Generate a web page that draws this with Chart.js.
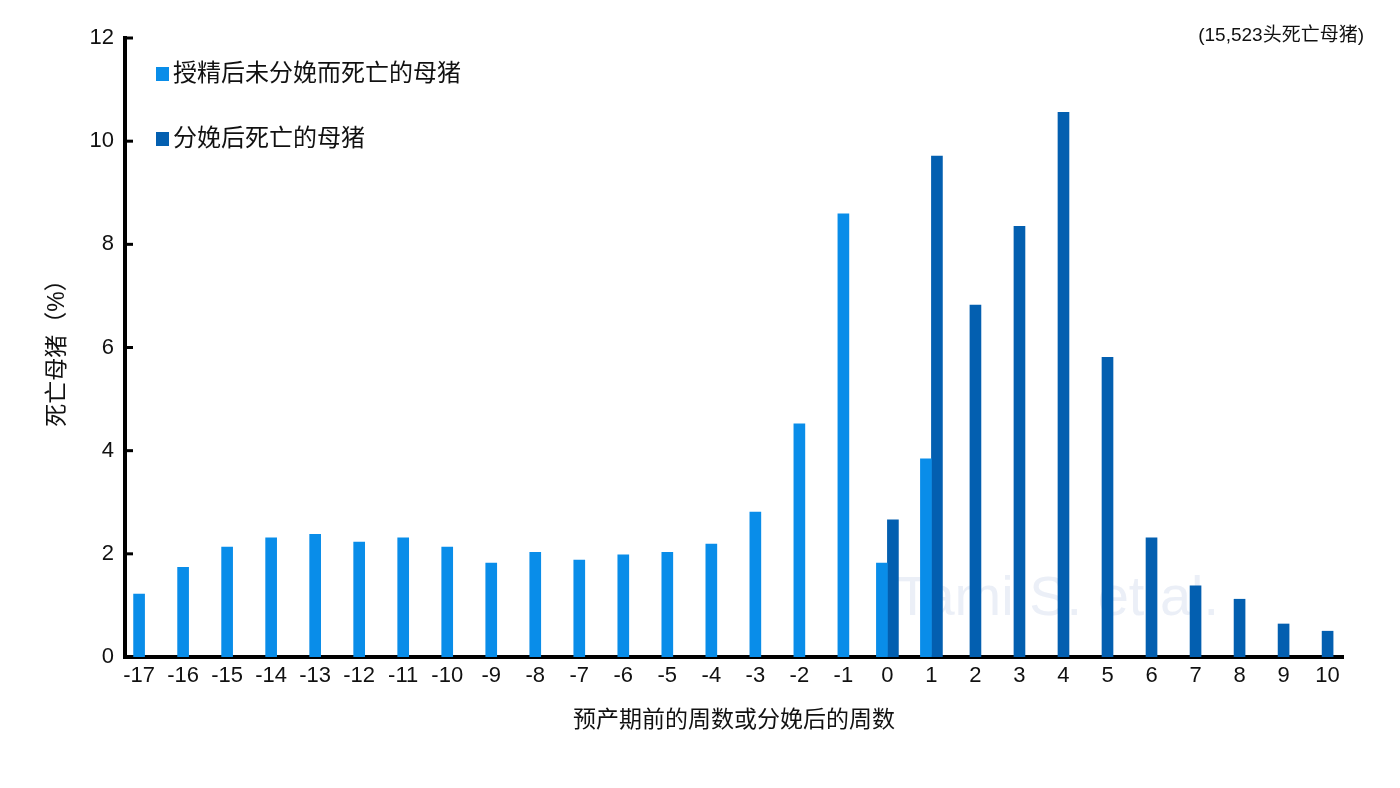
<!DOCTYPE html>
<html>
<head>
<meta charset="utf-8">
<script src="https://cdn.jsdelivr.net/npm/chart.js@4"></script>
<style>
  html, body { margin: 0; padding: 0; background: #fff; }
  #wrap { position: relative; width: 1400px; height: 788px; }
  #note { position: absolute; right: 36px; top: 19px; font: 19px Arial, "Liberation Sans", "Noto Sans CJK SC", sans-serif; color: #111; }
</style>
</head>
<body>
<div id="wrap">
  <canvas id="myChart" width="1400" height="788"></canvas>
  <div id="note">(15,523头死亡母猪)</div>
</div>
<script>
var FONT = 'Arial, "Liberation Sans", "Noto Sans CJK SC", sans-serif';

// weeks before expected farrowing (negative) or after farrowing
var weeks = ['-17', '-16', '-15', '-14', '-13', '-12', '-11', '-10', '-9', '-8', '-7', '-6', '-5', '-4', '-3', '-2', '-1', '0', '1', '2', '3', '4', '5', '6', '7', '8', '9', '10'];

// sows dead after service without farrowing (%)
var notFarrowed = [1.22, 1.74, 2.13, 2.31, 2.38, 2.23, 2.31, 2.13, 1.82, 2.03, 1.88, 1.98, 2.03, 2.19, 2.81, 4.52, 8.59, 1.82, 3.84, null, null, null, null, null, null, null, null, null];

// sows dead after farrowing (%)
var afterFarrowing = [null, null, null, null, null, null, null, null, null, null, null, null, null, null, null, null, null, 2.66, 9.71, 6.82, 8.35, 10.56, 5.81, 2.31, 1.38, 1.12, 0.64, 0.50];

var yTicks = [0, 2, 4, 6, 8, 10, 12];

// legend, inward y ticks and the faint source text
var extras = {
  id: 'extras',
  beforeDatasetsDraw: function(chart) {
    var c = chart.ctx, x = chart.scales.x, a = chart.chartArea;
    c.save();
    c.font = '56px ' + FONT;
    c.fillStyle = 'rgba(205,216,235,0.4)';
    c.textBaseline = 'middle';
    c.fillText('Tami S. et al.', x.getPixelForValue(0) + 8, a.bottom - 57);
    c.restore();
  },
  afterDraw: function(chart) {
    var c = chart.ctx, y = chart.scales.y, a = chart.chartArea;
    c.save();
    c.strokeStyle = '#000';
    c.lineWidth = 3;
    yTicks.forEach(function(v) {
      var py = y.getPixelForValue(v);
      c.beginPath();
      c.moveTo(a.left, py);
      c.lineTo(a.left + 8, py);
      c.stroke();
    });

    // legend
    c.font = '24px ' + FONT;
    c.textBaseline = 'middle';
    chart.data.datasets.forEach(function(ds, i) {
      var cy = a.top + 36 + i * 65;
      c.fillStyle = ds.backgroundColor;
      c.fillRect(a.left + 31, cy - 7, 13, 14);
      c.fillStyle = '#111';
      c.fillText(ds.label, a.left + 48, cy);
    });
    c.restore();
  }
};

var ctx = document.getElementById('myChart').getContext('2d');
var chart = new Chart(ctx, {
  type: 'bar',
  data: {
    labels: weeks,
    datasets: [{
      label: '授精后未分娩而死亡的母猪',
      backgroundColor: '#098de9',
      data: notFarrowed
    }, {
      label: '分娩后死亡的母猪',
      backgroundColor: '#035fb0',
      data: afterFarrowing
    }]
  },
  options: {
    responsive: false,
    animation: false,
    skipNull: true,
    barThickness: 11,
    layout: { padding: { left: 40, right: 57, top: 38, bottom: 50 } },
    plugins: {
      tooltip: { enabled: false },
      legend: { display: false }
    },
    scales: {
      x: {
        type: 'linear',
        offset: false,
        min: -17.32,
        max: 10.35,
        grid: { display: false, drawTicks: false },
        border: { color: '#000', width: 4 },
        ticks: {
          stepSize: 1,
          includeBounds: false,
          color: '#111',
          font: { family: FONT, size: 22 },
          padding: 6,
          maxRotation: 0,
          autoSkip: false,
          callback: function(v) { return String(v); }
        },
        title: { display: true, text: '预产期前的周数或分娩后的周数', color: '#111', font: { family: FONT, size: 23 }, padding: { top: 4, bottom: 4 } },
        afterFit: function(s) { s.height = 81; }
      },
      y: {
        min: 0,
        max: 12,
        grid: { display: false, drawTicks: false },
        border: { color: '#000', width: 4 },
        ticks: { stepSize: 2, color: '#111', font: { family: FONT, size: 22 }, padding: 11 },
        title: { display: true, text: '死亡母猪（%）', color: '#111', font: { family: FONT, size: 23 }, padding: { top: 4, bottom: 4 } },
        afterFit: function(s) { s.width = 85; }
      }
    }
  },
  plugins: [extras]
});
</script>
</body>
</html>
